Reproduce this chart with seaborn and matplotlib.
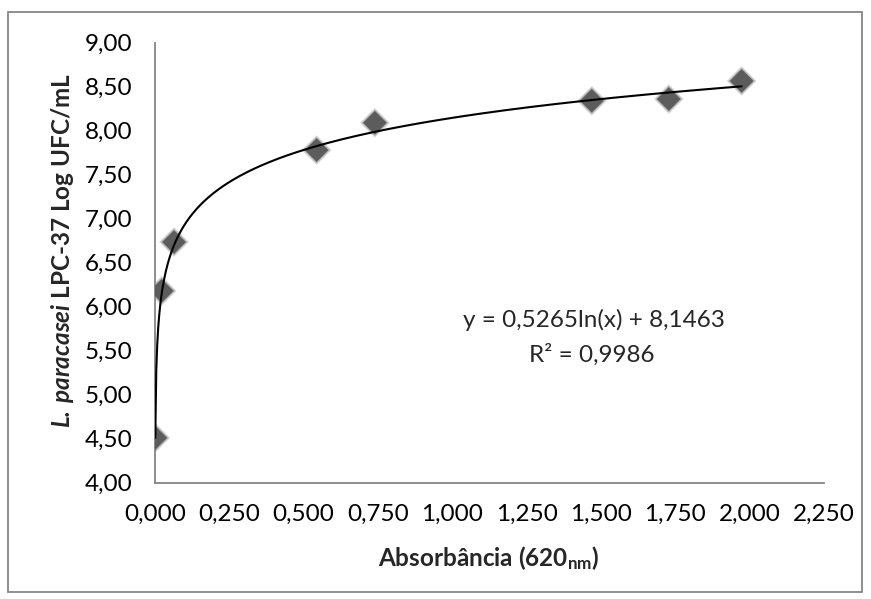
import numpy as np
import pandas as pd
import matplotlib
matplotlib.use("Agg")
import matplotlib.pyplot as plt
import matplotlib.patches as mpatches
from matplotlib.ticker import FixedLocator, FixedFormatter
import seaborn as sns

# ---- data ----
absorbance = [0.001, 0.0225, 0.064, 0.5435, 0.7395, 1.469, 1.728, 1.973]
log_ufc = [4.51, 6.18, 6.735, 7.78, 8.09, 8.34, 8.36, 8.565]

# logarithmic trendline coefficients (as printed on the chart)
trend_a = 0.5265
trend_b = 8.1463
trend_r2 = "0,9986"

x_ticks = [0.0, 0.25, 0.5, 0.75, 1.0, 1.25, 1.5, 1.75, 2.0, 2.25]
x_tick_labels = ["0,000", "0,250", "0,500", "0,750", "1,000",
                 "1,250", "1,500", "1,750", "2,000", "2,250"]
y_ticks = [4.0, 4.5, 5.0, 5.5, 6.0, 6.5, 7.0, 7.5, 8.0, 8.5, 9.0]
y_tick_labels = ["4,00", "4,50", "5,00", "5,50", "6,00", "6,50",
                 "7,00", "7,50", "8,00", "8,50", "9,00"]

eq_text = "y = 0,5265ln(x) + 8,1463"
r2_text = "R² = " + trend_r2
x_label = r"Absorbância ($\mathbf{620}_{\mathbf{nm}}$)"
y_label = r"$\mathbfit{L.}\:\mathbfit{paracasei}$ LPC-37 Log UFC/mL"

# ---- style ----
sns.set_style("white")
plt.rcParams["font.family"] = ["Lato", "DejaVu Sans"]
plt.rcParams["mathtext.fontset"] = "custom"
plt.rcParams["mathtext.rm"] = "Lato"
plt.rcParams["mathtext.it"] = "Lato:italic"
plt.rcParams["mathtext.bf"] = "Lato:bold"
plt.rcParams["mathtext.bfit"] = "Lato:italic:bold"

FS = 17.5

W, H = 871, 599
fig = plt.figure(figsize=(W / 100, H / 100), dpi=100)
fig.patch.set_facecolor("white")

def fx(px):
    return px / W

def fy(py):
    return 1 - py / H

ax = fig.add_axes([fx(155), fy(482.7), fx(824) - fx(155), fy(42.7) - fy(482.7)])

df = pd.DataFrame({"x": absorbance, "y": log_ufc})

# soft shadow halo under markers
sns.scatterplot(data=df, x="x", y="y", ax=ax, marker="D", s=230,
                color="#6a6a6a", alpha=0.25, edgecolor="none", zorder=2)
sns.scatterplot(data=df, x="x", y="y", ax=ax, marker="D", s=185,
                color="#6a6a6a", alpha=0.35, edgecolor="none", zorder=2)
sns.scatterplot(data=df, x="x", y="y", ax=ax, marker="D", s=145,
                color="#5c5c5c", edgecolor="none", zorder=3)

# trendline from the printed coefficients, over the data range
xs = np.linspace(min(absorbance), max(absorbance), 600)
trend = pd.DataFrame({"x": xs, "y": trend_a * np.log(xs) + trend_b})
sns.lineplot(data=trend, x="x", y="y", ax=ax, color="black", lw=1.5,
             zorder=4, sort=False)

ax.set_xlim(0, 2.25)
ax.set_ylim(4, 9)
ax.xaxis.set_major_locator(FixedLocator(x_ticks))
ax.xaxis.set_major_formatter(FixedFormatter(x_tick_labels))
ax.yaxis.set_major_locator(FixedLocator(y_ticks))
ax.yaxis.set_major_formatter(FixedFormatter(y_tick_labels))
ax.set_xlabel("")
ax.set_ylabel("")

spine_col = "#868686"
for s in ["top", "right"]:
    ax.spines[s].set_visible(False)
for s in ["left", "bottom"]:
    ax.spines[s].set_color(spine_col)
    ax.spines[s].set_linewidth(1.3)

ax.tick_params(axis="both", which="major", direction="out", length=6.5,
               width=1.3, color=spine_col, labelsize=FS, labelcolor="black")
ax.tick_params(axis="y", pad=10)
ax.tick_params(axis="x", pad=9)
ax.set_facecolor("white")
ax.grid(False)

# equation label
fig.text(fx(594), fy(320), eq_text, ha="center", va="center", fontsize=FS)
fig.text(fx(592), fy(355), r2_text, ha="center", va="center", fontsize=FS)

# axis titles
fig.text(fx(489), fy(558), x_label, ha="center", va="center",
         fontsize=FS, fontweight="bold")
fig.text(fx(63), fy(250), y_label, ha="center", va="center",
         fontsize=FS, fontweight="bold", rotation=90)

# outer chart border
fig.patches.append(mpatches.Rectangle((fx(8), fy(592)), fx(862) - fx(8),
                                      fy(12) - fy(592), transform=fig.transFigure,
                                      fill=False, edgecolor=spine_col, lw=1.3))

fig.savefig("out.png", dpi=100, facecolor="white")
